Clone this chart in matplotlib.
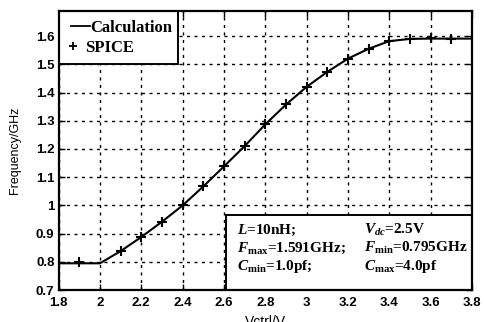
import matplotlib
matplotlib.use("Agg")
import matplotlib.pyplot as plt
from matplotlib.patches import Rectangle
from matplotlib.lines import Line2D

# ---- data ----
calc_x = [1.8, 1.9, 2.0, 2.1, 2.2, 2.3, 2.4, 2.5, 2.6, 2.7, 2.8, 2.9, 3.0,
          3.1, 3.2, 3.3, 3.4, 3.5, 3.6, 3.7, 3.8]
calc_f = [0.795, 0.795, 0.795, 0.838, 0.888, 0.942, 1.000, 1.067, 1.138,
          1.210, 1.287, 1.357, 1.420, 1.473, 1.520, 1.555, 1.582, 1.590,
          1.591, 1.591, 1.591]
spice_x = [1.9, 2.1, 2.2, 2.3, 2.4, 2.5, 2.6, 2.7, 2.8, 2.9, 3.0, 3.1, 3.2,
           3.3, 3.4, 3.5, 3.6, 3.7]
spice_f = [0.800, 0.839, 0.888, 0.942, 1.001, 1.068, 1.139, 1.210, 1.290,
           1.359, 1.420, 1.473, 1.518, 1.554, 1.583, 1.590, 1.592, 1.590]
xticks = [1.8, 2.0, 2.2, 2.4, 2.6, 2.8, 3.0, 3.2, 3.4, 3.6, 3.8]
xtick_labels = ["1.8", "2", "2.2", "2.4", "2.6", "2.8", "3", "3.2", "3.4", "3.6", "3.8"]
yticks = [0.7, 0.8, 0.9, 1.0, 1.1, 1.2, 1.3, 1.4, 1.5, 1.6]
ytick_labels = ["0.7", "0.8", "0.9", "1", "1.1", "1.2", "1.3", "1.4", "1.5", "1.6"]

plt.rcParams['mathtext.fontset'] = 'custom'
plt.rcParams['mathtext.rm'] = 'Liberation Serif:bold'
plt.rcParams['mathtext.it'] = 'Liberation Serif:italic:bold'
plt.rcParams['mathtext.bf'] = 'Liberation Serif:bold'

fig = plt.figure(figsize=(4.84, 3.22), dpi=100)
ax = fig.add_axes([0.121, 0.099, 0.854, 0.867])

ax.plot(calc_x, calc_f, color='black', lw=1.5, zorder=3)
ax.plot(spice_x, spice_f, ls='none', marker='+', ms=7, mew=1.5, color='black', zorder=4)

ax.set_xlim(1.8, 3.8)
ax.set_ylim(0.7, 1.689)
ax.set_xticks(xticks)
ax.set_xticklabels(xtick_labels)
ax.set_yticks(yticks)
ax.set_yticklabels(ytick_labels)
for lab in ax.get_xticklabels() + ax.get_yticklabels():
    lab.set_fontfamily('Liberation Sans')
    lab.set_fontweight('bold')
    lab.set_fontsize(9.5)
ax.tick_params(direction='in', length=4, width=1, top=True, right=True, colors='black')
ax.tick_params(axis='x', pad=5)
ax.tick_params(axis='y', pad=3)
ax.grid(True, color='black', lw=1.0, ls=(0, (2.2, 3.2)))
ax.set_axisbelow(False)
for s in ax.spines.values():
    s.set_linewidth(1.6)
    s.set_zorder(10)

ax.set_ylabel('Frequency/GHz', fontfamily='Liberation Sans', fontsize=9)
ax.yaxis.set_label_coords(-0.092, 0.5)
ax.set_xlabel('Vctrl/V', fontfamily='Liberation Sans', fontsize=10)
ax.xaxis.set_label_coords(0.5, -0.088)

# legend box (upper left)
ax.add_patch(Rectangle((0, 0.809), 0.289, 0.191, transform=ax.transAxes,
                       facecolor='white', edgecolor='black', lw=1.4, zorder=6))
ax.add_line(Line2D([0.029, 0.0755], [0.945, 0.945], transform=ax.transAxes,
                   color='black', lw=1.3, zorder=7))
ax.text(0.076, 0.926, 'Calculation', transform=ax.transAxes, va='baseline', ha='left',
        fontfamily='Liberation Serif', fontweight='bold', fontsize=12, zorder=7)
ax.plot([0.035], [0.873], transform=ax.transAxes, marker='+', ms=6, mew=1.3,
        color='black', zorder=7, ls='none')
ax.text(0.063, 0.854, 'SPICE', transform=ax.transAxes, va='baseline', ha='left',
        fontfamily='Liberation Serif', fontweight='bold', fontsize=12, zorder=7)

# parameter box (lower right)
ax.add_patch(Rectangle((0.405, 0), 0.595, 0.269, transform=ax.transAxes,
                       facecolor='white', edgecolor='black', lw=1.4, zorder=6))
tk = dict(transform=ax.transAxes, va='baseline', ha='left', fontfamily='Liberation Serif',
          fontweight='bold', fontsize=11, zorder=7)
c1, c2 = 0.432, 0.738
r1, r2, r3 = 0.201, 0.136, 0.072
ax.text(c1, r1, r'$L$=10nH;', **tk)
ax.text(c2, r1, r'$V_{dc}$=2.5V', **tk)
ax.text(c1, r2, r'$F_{\mathrm{max}}$=1.591GHz;', **tk)
ax.text(c2, r2, r'$F_{\mathrm{min}}$=0.795GHz', **tk)
ax.text(c1, r3, r'$C_{\mathrm{min}}$=1.0pf;', **tk)
ax.text(c2, r3, r'$C_{\mathrm{max}}$=4.0pf', **tk)

fig.savefig('out.png', dpi=100)
